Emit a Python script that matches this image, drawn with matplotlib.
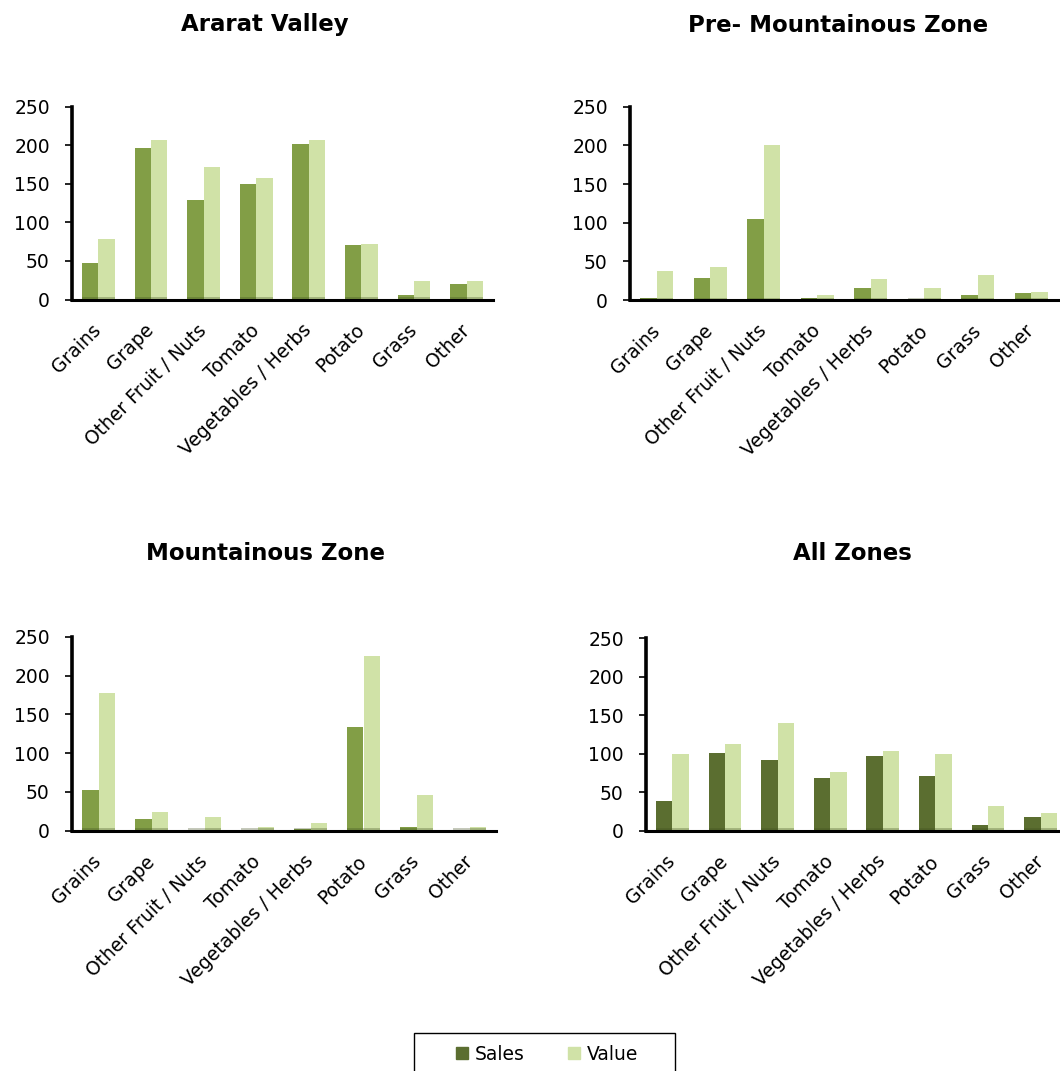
import numpy as np
import matplotlib.pyplot as plt
from matplotlib.patches import Rectangle

crops = ['Grains', 'Grape', 'Other Fruit / Nuts', 'Tomato', 'Vegetables / Herbs',
         'Potato', 'Grass', 'Other']

ararat_sales = [47, 196, 129, 150, 202, 70, 6, 20]
ararat_value = [79, 206, 172, 158, 206, 72, 24, 24]

premount_sales = [3, 29, 105, 2, 15, 0, 7, 9]
premount_value = [37, 43, 200, 7, 27, 16, 32, 10]

mount_sales = [53, 15, 1, 0, 2, 133, 5, 1]
mount_value = [178, 24, 18, 5, 10, 225, 46, 5]

all_sales = [38, 101, 92, 69, 97, 71, 8, 18]
all_value = [100, 113, 140, 76, 104, 100, 32, 23]

light_green = '#d0e2a7'
mid_green = '#829e46'
dark_green = '#5b6e30'

fig = plt.figure(figsize=(10.6, 10.71), dpi=100)

W, H = 1060, 1071


def add_panel(px_left, px_right, px_top, px_bottom, sales, value, sales_color, title, title_xy):
    ax = fig.add_axes([px_left / W, 1 - px_bottom / H,
                       (px_right - px_left) / W, (px_bottom - px_top) / H])
    x = np.arange(len(crops))
    w = 0.31
    ax.bar(x - w / 2, sales, width=w, color=sales_color, zorder=2)
    ax.bar(x + w / 2, value, width=w, color=light_green, zorder=2)
    # darker floor band under each bar pair
    ax.bar(x, [5] * len(crops), bottom=-2, width=2 * w, color='#3f4f1f', alpha=0.3,
           zorder=3, linewidth=0, clip_on=False)
    ax.set_xlim(-0.5, 7.5)
    ax.set_ylim(0, 250)
    ax.set_yticks([0, 50, 100, 150, 200, 250])
    ax.set_xticks(x)
    ax.set_xticklabels(crops, rotation=45, ha='right', va='center',
                       rotation_mode='anchor', fontsize=13.5)
    ax.tick_params(axis='x', length=0, pad=20)
    ax.tick_params(axis='y', length=5, width=1.2, labelsize=13.5, pad=11)
    for s in ['top', 'right']:
        ax.spines[s].set_visible(False)
    ax.spines['left'].set_linewidth(2.6)
    ax.spines['bottom'].set_linewidth(2.2)
    ax.spines['left'].set_zorder(4)
    ax.spines['bottom'].set_zorder(4)
    fig.text(title_xy[0] / W, 1 - title_xy[1] / H, title, ha='center', va='center',
             fontsize=16.5, fontweight='bold')
    return ax


add_panel(72, 493, 106.5, 299.5, ararat_sales, ararat_value, mid_green,
          'Ararat Valley', (265, 25))
add_panel(630, 1058, 106.7, 300, premount_sales, premount_value, mid_green,
          'Pre- Mountainous Zone', (838, 25))
add_panel(72, 496, 636.7, 830.7, mount_sales, mount_value, mid_green,
          'Mountainous Zone', (266, 553))
add_panel(646, 1067, 638, 830.7, all_sales, all_value, dark_green,
          'All Zones', (852, 553))

handles = [Rectangle((0, 0), 1, 1, color=dark_green),
           Rectangle((0, 0), 1, 1, color=light_green)]
fig.legend(handles, ['Sales', 'Value'], loc='center',
           bbox_to_anchor=(547 / W, 1 - 1054 / H), ncol=2, fontsize=13.5,
           frameon=False, handlelength=0.65, handleheight=0.65,
           handletextpad=0.35, columnspacing=2.3)

# legend box, running off the bottom edge
fig.patches.append(Rectangle((414 / W, 1 - 1080 / H), 261 / W, 47 / H,
                             transform=fig.transFigure, fill=False,
                             edgecolor='black', linewidth=1.0))

fig.savefig('out.png', dpi=100)
